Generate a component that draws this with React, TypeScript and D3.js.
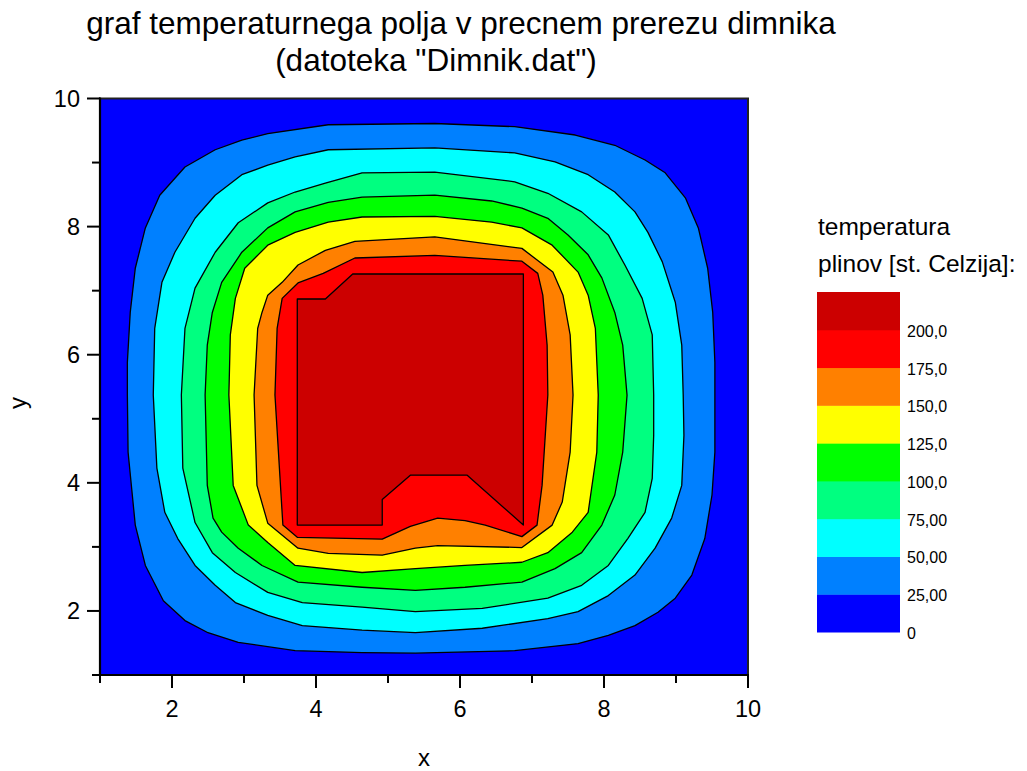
import React from "react";
import * as d3 from "d3";

// contour levels (deg C) and colours for each band
const levels = [0, 25, 50, 75, 100, 125, 150, 175, 200];
const bandColors = ["#0000ff", "#0080ff", "#00ffff", "#00ff80", "#00ff00", "#ffff00", "#ff8000", "#ff0000", "#cc0000"];
const legendLabels = ["0", "25,00", "50,00", "75,00", "100,0", "125,0", "150,0", "175,0", "200,0"];

const majorTicks = [2, 4, 6, 8, 10];
const minorTicks = [1, 3, 5, 7, 9];

// isolines, in data units [x, y]
const ring25 = [
  [1.38, 5.37], [1.38, 5.88], [1.42, 6.66], [1.49, 7.35], [1.63, 7.98], [1.83, 8.49], [2.18, 8.93], [2.6, 9.2],
  [2.97, 9.35], [3.33, 9.45], [4.17, 9.59], [5.65, 9.61], [6.76, 9.56], [7.6, 9.43], [8.15, 9.27], [8.57, 9.04],
  [8.85, 8.84], [9.13, 8.45], [9.31, 7.98], [9.44, 7.35], [9.51, 6.66], [9.54, 5.88], [9.54, 5.37], [9.54, 4.48],
  [9.5, 3.81], [9.4, 3.13], [9.22, 2.56], [8.99, 2.2], [8.75, 1.98], [8.43, 1.77], [8.06, 1.62], [7.64, 1.49],
  [6.76, 1.38], [5.38, 1.34], [4.64, 1.35], [3.71, 1.38], [2.92, 1.51], [2.5, 1.66], [2.18, 1.85], [1.88, 2.16],
  [1.63, 2.71], [1.49, 3.34], [1.39, 4.48],
];
const ring50 = [
  [1.74, 5.37], [1.76, 6.41], [1.86, 7.13], [2.04, 7.6], [2.32, 8.13], [2.6, 8.49], [2.97, 8.81], [3.33, 8.96],
  [3.71, 9.09], [4.17, 9.2], [5.65, 9.23], [6.76, 9.15], [7.32, 9.01], [7.78, 8.81], [8.15, 8.54], [8.43, 8.23],
  [8.61, 7.91], [8.81, 7.45], [8.99, 6.82], [9.08, 6.15], [9.1, 5.37], [9.11, 4.74], [9.08, 3.96], [8.94, 3.45],
  [8.71, 2.98], [8.43, 2.56], [8.06, 2.24], [7.64, 1.99], [7.22, 1.88], [6.31, 1.73], [5.38, 1.66], [4.64, 1.7],
  [3.81, 1.77], [3.33, 1.93], [2.88, 2.13], [2.6, 2.4], [2.32, 2.71], [2.08, 3.13], [1.9, 3.54], [1.79, 4.23],
];
const ring75 = [
  [2.13, 5.37], [2.18, 6.41], [2.32, 7.04], [2.6, 7.6], [2.92, 8.06], [3.33, 8.37], [3.71, 8.54], [4.13, 8.68],
  [4.64, 8.84], [5.65, 8.85], [6.76, 8.7], [7.22, 8.52], [7.69, 8.23], [8.06, 7.87], [8.29, 7.4], [8.53, 6.88],
  [8.67, 6.31], [8.69, 5.37], [8.69, 4.74], [8.67, 4.07], [8.57, 3.54], [8.33, 3.13], [8.06, 2.71], [7.69, 2.4],
  [7.22, 2.2], [6.31, 2.04], [5.38, 1.99], [4.64, 2.06], [3.81, 2.13], [3.33, 2.29], [2.88, 2.6], [2.56, 2.91],
  [2.32, 3.38], [2.15, 4.23],
];
const ring100 = [
  [2.46, 5.37], [2.49, 6.15], [2.56, 6.66], [2.69, 7.13], [2.97, 7.6], [3.33, 7.98], [3.71, 8.23], [4.17, 8.38],
  [4.64, 8.46], [5.65, 8.49], [6.44, 8.4], [6.86, 8.29], [7.22, 8.13], [7.5, 7.87], [7.78, 7.56], [7.97, 7.2],
  [8.15, 6.66], [8.26, 6.15], [8.32, 5.37], [8.26, 4.48], [8.15, 3.81], [7.97, 3.34], [7.69, 2.91], [7.32, 2.66],
  [6.86, 2.45], [6.07, 2.37], [5.38, 2.32], [4.64, 2.37], [3.75, 2.45], [3.25, 2.71], [2.92, 2.98], [2.69, 3.23],
  [2.57, 3.45], [2.49, 3.96],
];
const ring125 = [
  [2.79, 5.37], [2.81, 6.31], [2.88, 6.88], [3.01, 7.35], [3.33, 7.71], [3.71, 7.91], [4.17, 8.07], [4.64, 8.15],
  [5.65, 8.16], [6.44, 8.07], [6.86, 7.98], [7.28, 7.71], [7.64, 7.29], [7.78, 6.93], [7.88, 6.41], [7.92, 5.37],
  [7.9, 4.48], [7.78, 3.54], [7.56, 3.23], [7.22, 2.91], [6.86, 2.76], [6.07, 2.71], [5.38, 2.66], [4.64, 2.6],
  [3.71, 2.71], [3.33, 3.07], [3.06, 3.34], [2.85, 3.96],
];
const ring150 = [
  [3.14, 5.37], [3.19, 6.41], [3.25, 6.66], [3.33, 6.93], [3.53, 7.13], [3.75, 7.4], [4.13, 7.63], [4.54, 7.77],
  [5.65, 7.84], [6.86, 7.66], [7.29, 7.29], [7.43, 6.93], [7.53, 6.31], [7.57, 5.37], [7.53, 4.48], [7.42, 3.7],
  [7.28, 3.34], [6.86, 2.99], [5.69, 3.02], [5.38, 2.98], [4.92, 2.87], [4.17, 2.9], [3.75, 2.98], [3.33, 3.37],
  [3.18, 3.96],
];
const ring175 = [
  [3.43, 5.37], [3.46, 6.41], [3.53, 6.88], [3.75, 7.12], [4.1, 7.27], [4.54, 7.51], [5.65, 7.55], [6.86, 7.46],
  [7.08, 7.27], [7.15, 6.93], [7.21, 6.15], [7.22, 5.37], [7.14, 3.96], [7.07, 3.34], [6.86, 3.16], [6.35, 3.34],
  [6.07, 3.41], [5.69, 3.45], [5.31, 3.32], [4.92, 3.12], [3.74, 3.15], [3.54, 3.34],
];
const ring200 = [
  [3.74, 6.87], [4.13, 6.87], [4.51, 7.26], [6.88, 7.26], [6.88, 3.34], [6.1, 4.12], [5.31, 4.12], [4.92, 3.74],
  [4.92, 3.34], [3.74, 3.34],
];

const rings = [ring25, ring50, ring75, ring100, ring125, ring150, ring175, ring200];

const font = "'Liberation Sans', Arial, Helvetica, sans-serif";

export default function App() {
  const left = 100, right = 748, top = 98.5, bottom = 675;

  const x = d3.scaleLinear().domain([1, 10]).range([left, right]);
  const y = d3.scaleLinear().domain([1, 10]).range([bottom, top]);

  const line = d3.line<number[]>()
    .x((d) => x(d[0]))
    .y((d) => y(d[1]))
    .curve(d3.curveLinearClosed);

  // legend colour bar, one band per interval
  const legY = d3.scaleLinear().domain([0, levels.length]).range([632, 292]);
  const legX = 817, legW = 83;

  return (
    <svg width={1027} height={771} style={{ position: "absolute", left: 0, top: 0, background: "#fff" }}
      fontFamily={font}>
      <text x={461} y={34} fontSize={31.5} textAnchor="middle">graf temperaturnega polja v precnem prerezu dimnika</text>
      <text x={436} y={70.5} fontSize={31.5} textAnchor="middle">(datoteka "Dimnik.dat")</text>

      <rect x={left} y={top} width={right - left} height={bottom - top} fill={bandColors[0]} />
      {rings.map((r, i) => (
        <path key={i} d={line(r) || ""} fill={bandColors[i + 1]} stroke="#000" strokeWidth={1.3}
          strokeLinejoin="round" />
      ))}
      <rect x={left} y={top} width={right - left} height={bottom - top} fill="none" stroke="#222" strokeWidth={2} />

      {/* axes */}
      <line x1={left} x2={left} y1={top - 1} y2={bottom + 1} stroke="#000" strokeWidth={2.2} />
      <line x1={left - 1} x2={right + 1} y1={bottom} y2={bottom} stroke="#000" strokeWidth={2.2} />
      {majorTicks.map((t) => (
        <g key={"x" + t}>
          <line x1={x(t)} x2={x(t)} y1={bottom} y2={bottom + 13} stroke="#000" strokeWidth={2} />
          <text x={x(t)} y={717} fontSize={23.5} textAnchor="middle">{t}</text>
        </g>
      ))}
      {minorTicks.map((t) => (
        <line key={"xm" + t} x1={x(t)} x2={x(t)} y1={bottom} y2={bottom + 8} stroke="#000" strokeWidth={2} />
      ))}
      {majorTicks.map((t) => (
        <g key={"y" + t}>
          <line x1={left - 13} x2={left} y1={y(t)} y2={y(t)} stroke="#000" strokeWidth={2} />
          <text x={80} y={y(t) + 8.5} fontSize={23.5} textAnchor="end">{t}</text>
        </g>
      ))}
      {minorTicks.map((t) => (
        <line key={"ym" + t} x1={left - 8} x2={left} y1={y(t)} y2={y(t)} stroke="#000" strokeWidth={2} />
      ))}
      <text x={424} y={766} fontSize={24} textAnchor="middle">x</text>
      <text transform="translate(26,403) rotate(-90)" fontSize={24} textAnchor="middle">y</text>

      {/* legend */}
      <text x={818} y={235} fontSize={24.5}>temperatura</text>
      <text x={818} y={272} fontSize={24.5}>plinov [st. Celzija]:</text>
      {bandColors.map((c, i) => (
        <rect key={"b" + i} x={legX} y={legY(i + 1)} width={legW} height={legY(i) - legY(i + 1) + 0.5} fill={c} />
      ))}
      {legendLabels.map((l, i) => (
        <text key={"l" + i} x={907} y={legY(i) + 7} fontSize={16}>{l}</text>
      ))}
    </svg>
  );
}
